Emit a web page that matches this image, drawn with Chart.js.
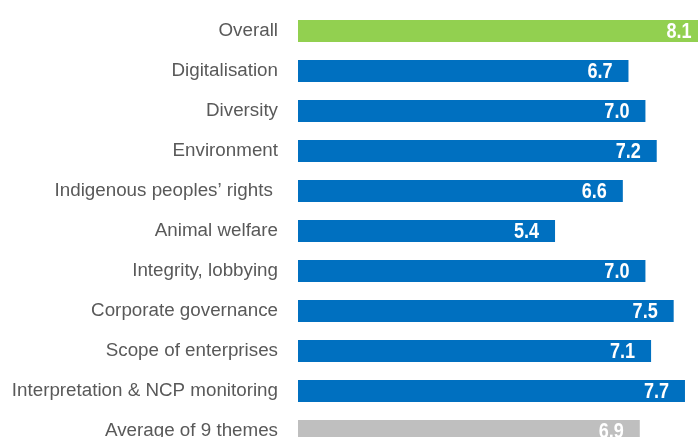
<!DOCTYPE html>
<html>
<head>
<meta charset="utf-8">
<script src="https://cdn.jsdelivr.net/npm/chart.js@4/dist/chart.umd.min.js"></script>
<style>
  html, body { margin: 0; padding: 0; background: #fff; overflow: hidden; }
  #wrap { width: 698px; height: 437px; overflow: hidden; }
</style>
</head>
<body>
<div id="wrap"><canvas id="myChart" width="720" height="460"></canvas></div>
<script>
var themes = ['Overall', 'Digitalisation', 'Diversity', 'Environment', 'Indigenous peoples\u2019 rights ',
  'Animal welfare', 'Integrity, lobbying', 'Corporate governance', 'Scope of enterprises',
  'Interpretation & NCP monitoring', 'Average of 9 themes'];
var scores = [8.1, 6.7, 7.0, 7.2, 6.6, 5.4, 7.0, 7.5, 7.1, 7.7, 6.9];
var barColors = ['#92d050', '#0070c0', '#0070c0', '#0070c0', '#0070c0', '#0070c0',
  '#0070c0', '#0070c0', '#0070c0', '#0070c0', '#bfbfbf'];

// white value labels inside the end of each bar (narrow bold look)
var valueLabels = {
  id: 'valueLabels',
  afterDatasetsDraw: function(chart) {
    var c = chart.ctx;
    var meta = chart.getDatasetMeta(0);
    meta.data.forEach(function(bar, i) {
      c.save();
      c.translate(bar.x - 16, bar.y + 1);
      c.scale(0.82, 1);
      c.font = 'bold 22px "Liberation Sans", Arial, sans-serif';
      c.fillStyle = '#ffffff';
      c.textAlign = 'right';
      c.textBaseline = 'middle';
      c.fillText(scores[i].toFixed(1), 0, 0);
      c.restore();
    });
  }
};

var ctx = document.getElementById('myChart').getContext('2d');
var myChart = new Chart(ctx, {
  type: 'bar',
  data: {
    labels: themes,
    datasets: [{
      data: scores,
      backgroundColor: barColors,
      borderWidth: 0,
      categoryPercentage: 0.55,
      barPercentage: 1
    }]
  },
  options: {
    indexAxis: 'y',
    responsive: false,
    animation: false,
    layout: { padding: { top: 11, bottom: 9, left: 0, right: 0 } },
    plugins: {
      legend: { display: false },
      tooltip: { enabled: false }
    },
    scales: {
      x: {
        display: false,
        min: 0.85,
        max: 8.32
      },
      y: {
        border: { display: false },
        grid: { display: false, drawTicks: false },
        afterFit: function(scale) {
          scale.width = 298;
          scale.paddingTop = 0;
          scale.paddingBottom = 0;
        },
        ticks: {
          padding: 20,
          color: '#595959',
          font: { family: '"Liberation Sans", Arial, sans-serif', size: 18.8 }
        }
      }
    }
  },
  plugins: [valueLabels]
});
</script>
</body>
</html>
